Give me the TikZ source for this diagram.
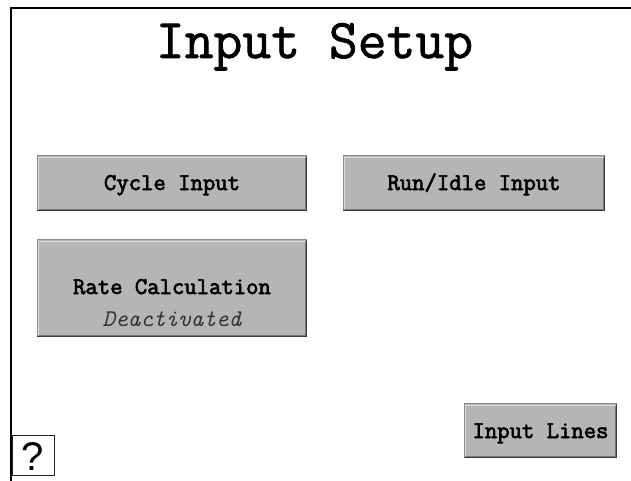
\documentclass[tikz,border=0pt]{standalone}
\usepackage{fontspec}
\setsansfont{Liberation Sans}
\newfontfamily\screenfont{Latin Modern Mono}
\newfontfamily\screentitle{Latin Modern Mono}[FakeBold=1.4]
\newfontfamily\screenbold{Latin Modern Mono}[FakeBold=2.8]
\begin{document}
\begin{tikzpicture}[x=1pt,y=-1pt,
  btnface/.style={fill=btnfill, draw=none, inner sep=0pt, outer sep=0pt},
  btntext/.style={font=\screenbold\fontsize{24}{26}\selectfont, anchor=base, inner sep=0pt},
  hiout/.style={draw=bevelmid, line width=1.2pt},
  hiin/.style={draw=bevellight, line width=1.2pt},
  loout/.style={draw=beveldark, line width=1.2pt},
  loin/.style={draw=bevelshade, line width=1.2pt}]
\definecolor{btnfill}{RGB}{181,181,181}
\definecolor{bevelmid}{RGB}{140,140,140}
\definecolor{bevellight}{RGB}{222,222,222}
\definecolor{beveldark}{RGB}{60,60,60}
\definecolor{bevelshade}{RGB}{120,120,120}

\fill[white] (0,0) rectangle (631,481);
\useasboundingbox (0,0) rectangle (631,481);

% outer frame (left and top edges)
\coordinate (fb) at (11,481);
\coordinate (ftl) at (11,8);
\coordinate (fr) at (631,8);
\draw[line width=1.5pt] (fb) -- (ftl) -- (fr);

% title
\node[font=\screentitle\fontsize{56}{60}\selectfont, anchor=base, inner sep=0pt] (title) at (314.5,58) {Input Setup};

% button faces
\node[btnface, minimum width=270pt, minimum height=55pt] (cycle) at (172,183.5) {};
\node[btnface, minimum width=262pt, minimum height=55pt] (runidle) at (474,183.5) {};
\node[btnface, minimum width=270pt, minimum height=97pt] (rate) at (172,288.5) {};
\node[btnface, minimum width=153pt, minimum height=54pt] (lines) at (540.5,431) {};

% bevelled edges
\foreach \b in {cycle,runidle,rate,lines}{
  \draw[hiout] ([xshift=0.6pt]\b.south west) -- ([xshift=0.6pt,yshift=0.6pt]\b.north west) -- ([yshift=0.6pt]\b.north east);
  \draw[hiin] ([xshift=1.8pt,yshift=1.8pt]\b.south west) -- ([xshift=1.8pt,yshift=-1.8pt]\b.north west) -- ([xshift=-1.8pt,yshift=-1.8pt]\b.north east);
  \draw[loout] ([yshift=0.6pt]\b.south west) -- ([xshift=-0.6pt,yshift=0.6pt]\b.south east) -- ([xshift=-0.6pt]\b.north east);
  \draw[loin] ([xshift=1.8pt,yshift=1.8pt]\b.south west) -- ([xshift=-1.8pt,yshift=1.8pt]\b.south east) -- ([xshift=-1.8pt,yshift=-1.8pt]\b.north east);
}

% button labels
\node[btntext] (cyclet) at (172,190) {Cycle Input};
\node[btntext] (runidlet) at (474,190) {Run/Idle Input};
\node[btntext] (ratet) at (172,294) {Rate Calculation};
\node[font=\screenfont\itshape\fontsize{24}{26}\selectfont, anchor=base, inner sep=0pt, text=black!80] (ratest) at (172,326) {Deactivated};
\node[btntext] (linest) at (540.5,438) {Input Lines};

% help box
\node[draw=black!85, line width=1pt, fill=white, minimum width=42pt, minimum height=40pt, inner sep=0pt] (help) at (33,455) {};
\node[font=\sffamily\fontsize{40}{44}\selectfont, anchor=base, inner sep=0pt] (helpq) at (33,470) {?};
\end{tikzpicture}
\end{document}
